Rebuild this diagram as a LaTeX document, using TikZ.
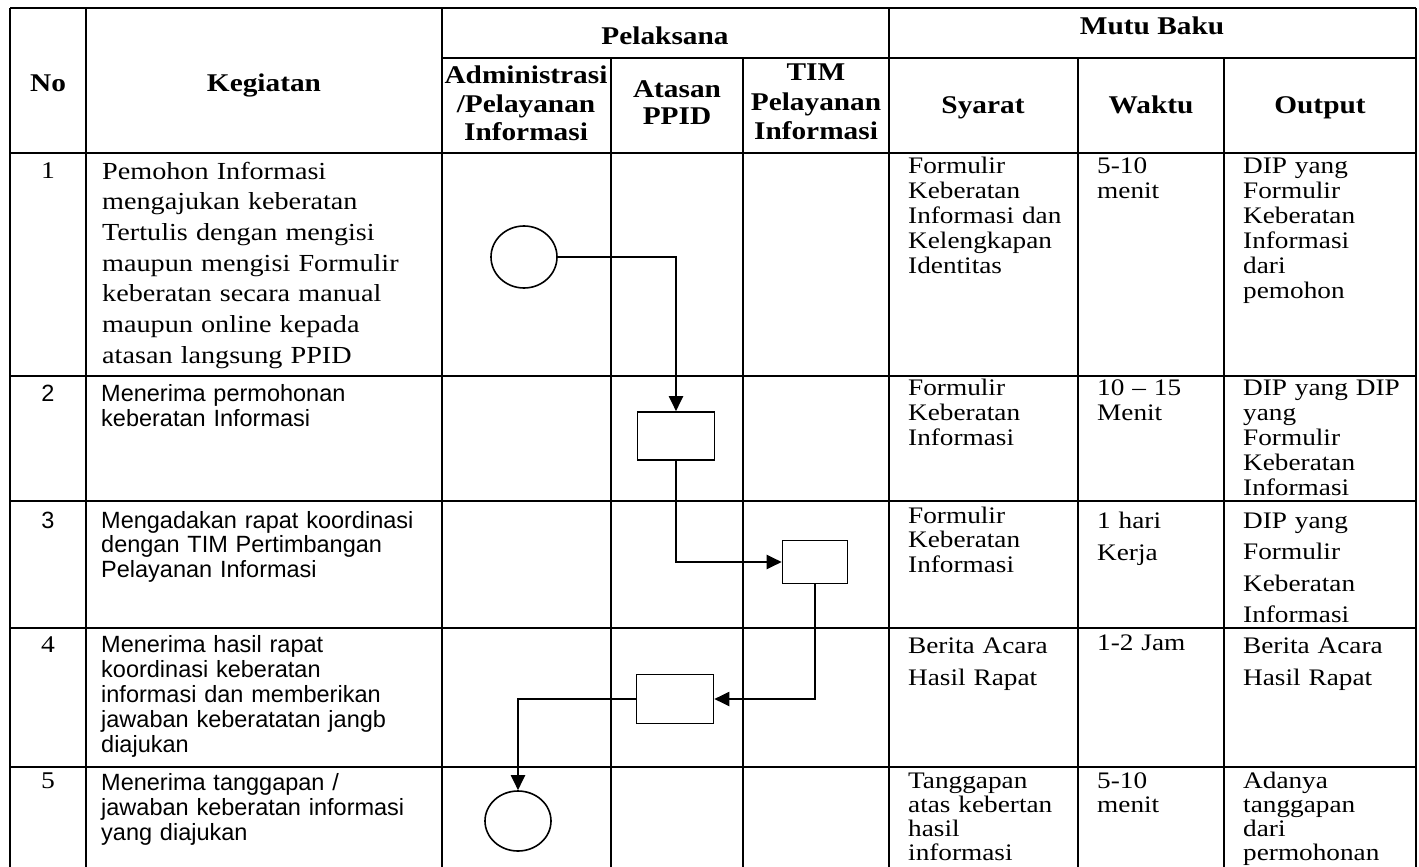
\documentclass[tikz,border=0pt]{standalone}
\usepackage{fontspec}
\setmainfont{Liberation Serif}[FakeStretch=1.15]
\newfontfamily\arl{Liberation Sans}
\usetikzlibrary{arrows.meta,shapes.geometric}
\newcommand\myfs[2]{\fontsize{#1}{#2}\selectfont}
\tikzset{
  tbl/.style={line width=2.4pt},
  flowbox/.style={draw, line width=1.6pt, fill=white, inner sep=0pt},
  conn/.style={line width=2pt, -{Triangle[length=15pt,width=14pt]}},
  hd/.style={inner sep=0pt, align=center, font=\bfseries\myfs{25.5}{29}},
  cellt/.style={anchor=base west, inner sep=0pt, align=left, text width=#1},
  cellt/.default=170pt,
  numt/.style={anchor=base, inner sep=0pt}
}
\begin{document}
\begin{tikzpicture}[x=1pt,y=-1pt]
\useasboundingbox (0,0) rectangle (1419,867);
% table lines
\draw[tbl] (10,8) -- (1416,8);
\draw[tbl] (442,58) -- (1416,58);
\draw[tbl] (10,153) -- (1416,153);
\draw[tbl] (10,376) -- (1416,376);
\draw[tbl] (10,501) -- (1416,501);
\draw[tbl] (10,628) -- (1416,628);
\draw[tbl] (10,767) -- (1416,767);
\draw[tbl] (10,8) -- (10,867);
\draw[tbl] (86,8) -- (86,867);
\draw[tbl] (442,8) -- (442,867);
\draw[tbl] (611,58) -- (611,867);
\draw[tbl] (743,58) -- (743,867);
\draw[tbl] (889,8) -- (889,867);
\draw[tbl] (1078,58) -- (1078,867);
\draw[tbl] (1224,58) -- (1224,867);
\draw[tbl] (1416,8) -- (1416,867);
% headers
\node[hd, anchor=base] (hno) at (48,92) {No};
\node[hd, anchor=base] (hkeg) at (264,92) {Kegiatan};
\node[hd, anchor=base] (hpel) at (665,45) {Pelaksana};
\node[hd, anchor=base] (hmutu) at (1152,35) {Mutu Baku};
\node[hd, anchor=base, text width=172pt] (hadm) at (526,83) {Administrasi\\/Pelayanan\\Informasi};
\node[hd, anchor=base, text width=130pt, font=\bfseries\myfs{25.5}{28}] (hata) at (677,97) {Atasan\\PPID};
\node[hd, anchor=base, text width=150pt, font=\bfseries\myfs{25.5}{29.5}] (htim) at (816,81) {TIM\\Pelayanan\\Informasi};
\node[hd, anchor=base] (hsya) at (983,113) {Syarat};
\node[hd, anchor=base] (hwak) at (1151,113) {Waktu};
\node[hd, anchor=base] (hout) at (1320,113) {Output};
% numbers
\node[numt, font=\myfs{24}{25}] (n1) at (48,178) {1};
\node[numt, font=\arl\myfs{23.5}{25}] (n2) at (48,401) {2};
\node[numt, font=\arl\myfs{23.5}{25}] (n3) at (48,528) {3};
\node[numt, font=\myfs{24}{25}] (n4) at (48,652) {4};
\node[numt, font=\myfs{24}{25}] (n5) at (48,788) {5};
% kegiatan
\node[cellt=340pt, font=\myfs{24.5}{30.7}] (k1) at (102,179) {Pemohon Informasi\\mengajukan keberatan\\Tertulis dengan mengisi\\maupun mengisi Formulir\\keberatan secara manual\\maupun online kepada\\atasan langsung PPID};
\node[cellt=340pt, font=\arl\myfs{23.5}{25}] (k2) at (101,401) {Menerima permohonan\\keberatan Informasi};
\node[cellt=340pt, font=\arl\myfs{23.5}{24.5}] (k3) at (101,528) {Mengadakan rapat koordinasi\\dengan TIM Pertimbangan\\Pelayanan Informasi};
\node[cellt=340pt, font=\arl\myfs{23.5}{25}] (k4) at (101,652) {Menerima hasil rapat\\koordinasi keberatan\\informasi dan memberikan\\jawaban keberatatan jangb\\diajukan};
\node[cellt=340pt, font=\arl\myfs{23.5}{25}] (k5) at (101,790) {Menerima tanggapan /\\jawaban keberatan informasi\\yang diajukan};
% syarat
\node[cellt, font=\myfs{23.7}{25}] (s1) at (908,173) {Formulir\\Keberatan\\Informasi dan\\Kelengkapan\\Identitas};
\node[cellt, font=\myfs{23.7}{25}] (s2) at (908,395) {Formulir\\Keberatan\\Informasi};
\node[cellt, font=\myfs{23.7}{24.5}] (s3) at (908,523) {Formulir\\Keberatan\\Informasi};
\node[cellt, font=\myfs{23.7}{32}] (s4) at (908,653) {Berita Acara\\Hasil Rapat};
\node[cellt, font=\myfs{23.7}{24}] (s5) at (908,788) {Tanggapan\\atas kebertan\\hasil\\informasi};
% waktu
\node[cellt=125pt, font=\myfs{23.7}{25}] (w1) at (1097,173) {5-10\\menit};
\node[cellt=125pt, font=\myfs{23.7}{25}] (w2) at (1097,395) {10 – 15\\Menit};
\node[cellt=125pt, font=\myfs{23.7}{32}] (w3) at (1097,528) {1 hari\\Kerja};
\node[cellt=125pt, font=\myfs{23.7}{25}] (w4) at (1097,650) {1-2 Jam};
\node[cellt=125pt, font=\myfs{23.7}{24}] (w5) at (1097,788) {5-10\\menit};
% output
\node[cellt, font=\myfs{23.7}{25}] (o1) at (1243,173) {DIP yang\\Formulir\\Keberatan\\Informasi\\dari\\pemohon};
\node[cellt, font=\myfs{23.7}{25}] (o2) at (1243,395) {DIP yang DIP\\yang\\Formulir\\Keberatan\\Informasi};
\node[cellt, font=\myfs{23.7}{31.5}] (o3) at (1243,528) {DIP yang\\Formulir\\Keberatan\\Informasi};
\node[cellt, font=\myfs{23.7}{32}] (o4) at (1243,653) {Berita Acara\\Hasil Rapat};
\node[cellt, font=\myfs{23.7}{24}] (o5) at (1243,788) {Adanya\\tanggapan\\dari\\permohonan};
% flow shapes
\node[flowbox, ellipse, minimum width=66pt, minimum height=62pt] (c1) at (524,257) {};
\node[flowbox, rectangle, minimum width=77pt, minimum height=48pt] (b2) at (676,436) {};
\node[flowbox, rectangle, minimum width=65pt, minimum height=43pt] (b3) at (815,562) {};
\node[flowbox, rectangle, minimum width=77pt, minimum height=49pt] (b4) at (675,699) {};
\node[flowbox, ellipse, minimum width=66pt, minimum height=60pt] (c2) at (518,821) {};
% connectors
\draw[conn] (c1.east) -| (b2.north);
\draw[conn] (b2.south) |- (b3.west);
\draw[conn] (b3.south) |- (b4.east);
\draw[conn] (b4.west) -| (c2.north);
\end{tikzpicture}
\end{document}
